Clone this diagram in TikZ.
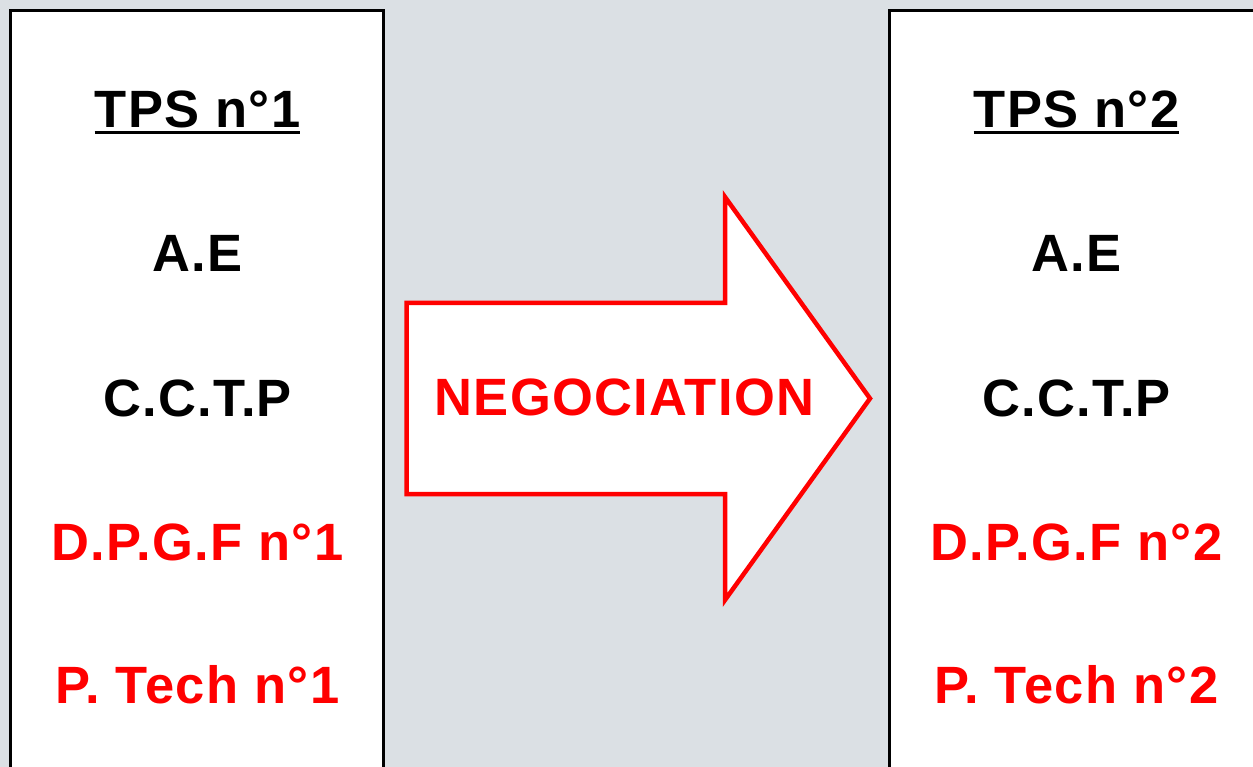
\documentclass[tikz,border=0pt]{standalone}
\usepackage{fontspec}
\setmainfont{Liberation Sans}[LetterSpace=2.5]
\definecolor{bg}{HTML}{DBE0E4}
\definecolor{rd}{HTML}{FF0000}
\tikzset{
  panel/.style={draw=black, line width=3pt},
  lbl/.style={anchor=base, font=\fontsize{52.5}{60}\selectfont\bfseries, inner sep=0pt},
  blk/.style={lbl, text=black},
  redt/.style={lbl, text=rd},
  bigarrow/.style={draw=rd, line width=4.5pt, fill=white, line join=miter},
}
\begin{document}
\begin{tikzpicture}[x=1pt,y=-1pt]
\useasboundingbox (0,0) rectangle (1253,767);
\fill[bg] (0,0) rectangle (1253,767);
% panels
\fill[white] (10.5,10.5) rectangle (383.5,790);
\fill[white] (889.5,10.5) rectangle (1280,790);
\draw[panel] (10.5,790) -- (10.5,10.5) -- (383.5,10.5) -- (383.5,790);
\draw[panel] (889.5,790) -- (889.5,10.5) -- (1280,10.5);
% arrow
\draw[bigarrow] (406.5,303) -- (725,303) -- (725,197) -- (870,398.5) -- (725,600) -- (725,494) -- (406.5,494) -- cycle;
\node[redt] (neg) at (624.5,415) {NEGOCIATION};
% left column
\node[blk] (t1) at (197.5,128) {TPS n°1};
\draw[line width=3pt] ([yshift=-5pt]t1.base west) -- ([yshift=-5pt]t1.base east);
\node[blk] (ae1) at (197.5,272) {A.E};
\node[blk] (cc1) at (197.5,416) {C.C.T.P};
\node[redt] (dp1) at (197.5,560) {D.P.G.F n°1};
\node[redt] (pt1) at (197.5,703) {P. Tech n°1};
% right column
\node[blk] (t2) at (1076.5,128) {TPS n°2};
\draw[line width=3pt] ([yshift=-5pt]t2.base west) -- ([yshift=-5pt]t2.base east);
\node[blk] (ae2) at (1076.5,272) {A.E};
\node[blk] (cc2) at (1076.5,416) {C.C.T.P};
\node[redt] (dp2) at (1076.5,560) {D.P.G.F n°2};
\node[redt] (pt2) at (1076.5,703) {P. Tech n°2};
\end{tikzpicture}
\end{document}
